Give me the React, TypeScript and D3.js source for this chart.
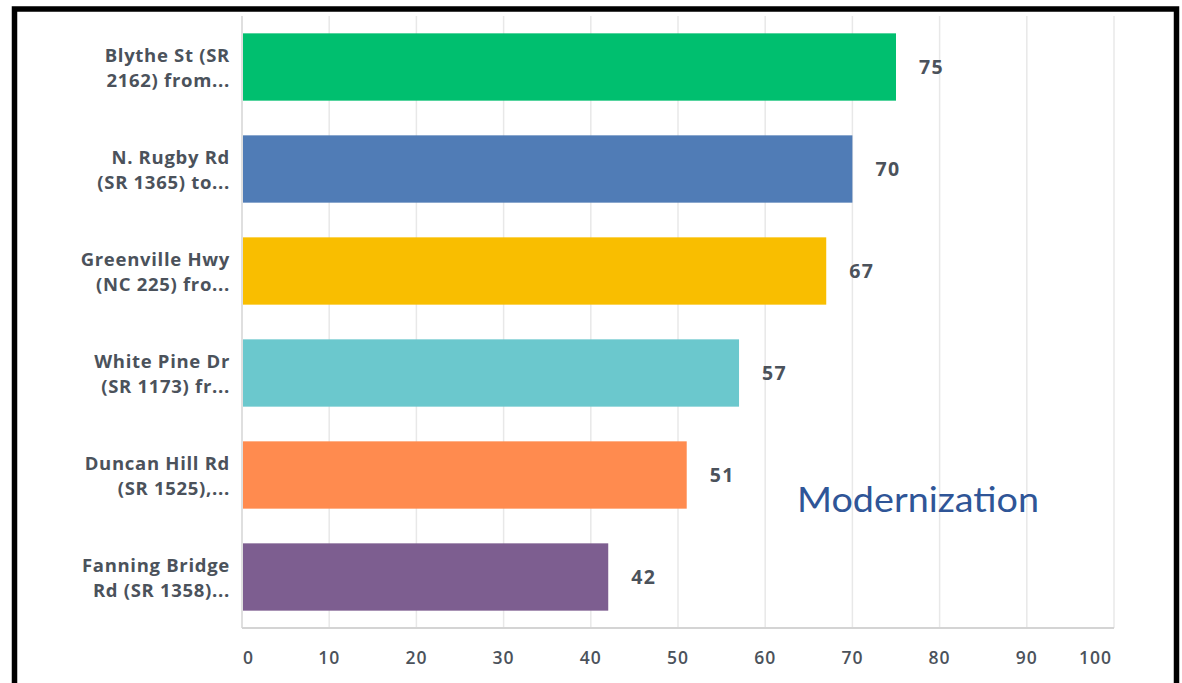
import React from "react";
import * as d3 from "d3";

const categories: string[][] = [
  ["Blythe St (SR", "2162) from..."],
  ["N. Rugby Rd", "(SR 1365) to..."],
  ["Greenville Hwy", "(NC 225) fro..."],
  ["White Pine Dr", "(SR 1173) fr..."],
  ["Duncan Hill Rd", "(SR 1525),..."],
  ["Fanning Bridge", "Rd (SR 1358)..."],
];
const values: number[] = [75, 70, 67, 57, 51, 42];
const colors: string[] = ["#00bf6f", "#507cb6", "#f9be00", "#6bc8cd", "#ff8b4f", "#7d5e90"];
const ticks: number[] = [0, 10, 20, 30, 40, 50, 60, 70, 80, 90, 100];
const title = "Modernization";

const W = 1182;
const H = 683;
const left = 242;
const right = 1114;
const top = 16;
const bottom = 628;
const font = "'Open Sans', Roboto, sans-serif";
const textColor = "#4b525b";

export default function App() {
  const x = d3.scaleLinear().domain([0, 100]).range([left, right]);
  const y = d3
    .scaleBand<number>()
    .domain(values.map((_, i) => i))
    .range([top, bottom])
    .paddingInner(0.34)
    .paddingOuter(0.17);

  return (
    <svg
      width={W}
      height={H}
      style={{ position: "absolute", left: 0, top: 0, background: "#fff" }}
    >
      <rect x={0} y={0} width={W} height={H} fill="#fff" />
      {/* gridlines */}
      {ticks.map((t) => (
        <line
          key={"g" + t}
          x1={x(t)}
          x2={x(t)}
          y1={top}
          y2={bottom}
          stroke={t === 0 ? "#d4d4d4" : "#e8e8e8"}
          strokeWidth={1.5}
        />
      ))}
      <line x1={left} x2={right} y1={bottom} y2={bottom} stroke="#d4d4d4" strokeWidth={2} />
      {/* bars */}
      {values.map((v, i) => (
        <g key={"b" + i}>
          <rect
            x={x(0) + 1}
            y={y(i)!}
            width={x(v) - x(0) - 1}
            height={y.bandwidth()}
            fill={colors[i]}
          />
          <text
            x={x(v) + 23}
            y={y(i)! + y.bandwidth() / 2}
            dy="0.36em"
            fontFamily={font}
            fontWeight={700}
            fontSize={19.5}
            letterSpacing={1.4}
            fill={textColor}
          >
            {v}
          </text>
          <text
            x={230}
            y={y(i)! + y.bandwidth() / 2}
            textAnchor="end"
            fontFamily={font}
            fontWeight={700}
            fontSize={18.5}
            letterSpacing={0.7}
            fill={textColor}
          >
            <tspan x={230} dy="-0.27em">{categories[i][0]}</tspan>
            <tspan x={230} dy="1.35em">{categories[i][1]}</tspan>
          </text>
        </g>
      ))}
      {/* x tick labels */}
      {ticks.map((t, i) => (
        <text
          key={"t" + t}
          x={i === 0 ? x(t) + 1 : i === ticks.length - 1 ? x(t) - 2 : x(t)}
          y={664}
          textAnchor={i === 0 ? "start" : i === ticks.length - 1 ? "end" : "middle"}
          fontFamily={font}
          fontWeight={600}
          fontSize={17.5}
          letterSpacing={1}
          fill={textColor}
        >
          {t}
        </text>
      ))}
      <text
        x={797}
        y={512}
        fontFamily="Lato, 'DejaVu Sans', sans-serif"
        fontSize={35}
        fill="#2f5597"
        textLength={242}
        lengthAdjust="spacingAndGlyphs"
      >
        {title}
      </text>
      {/* frame */}
      <rect x={14.5} y={9} width={1162} height={H + 20} fill="none" stroke="#000" strokeWidth={5.5} />
    </svg>
  );
}
